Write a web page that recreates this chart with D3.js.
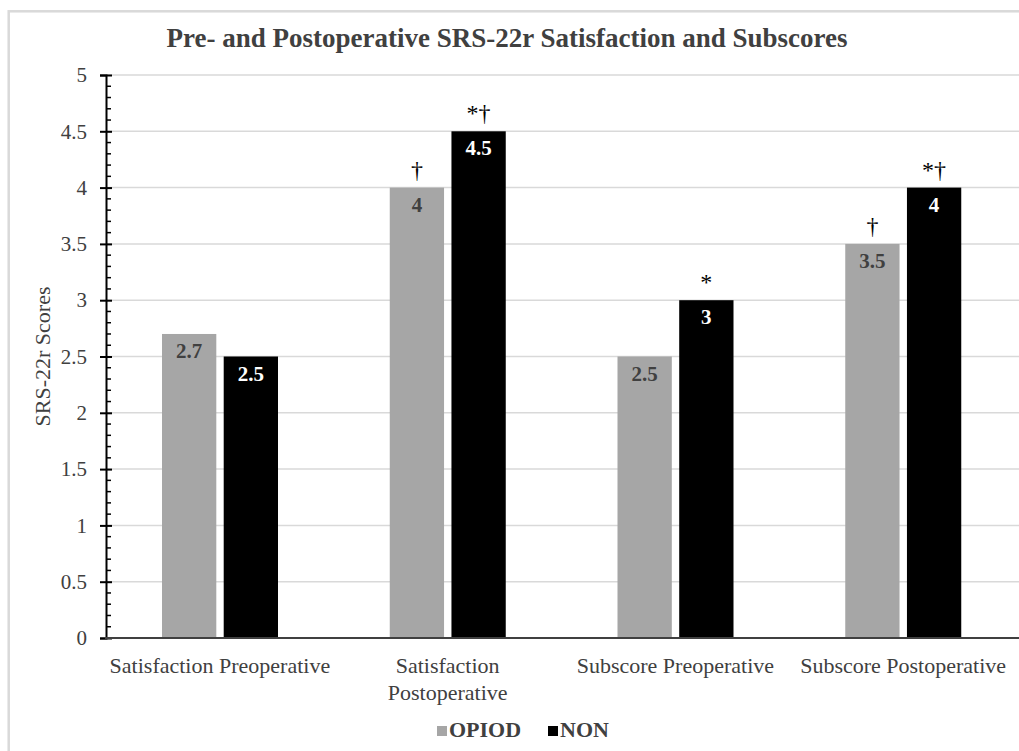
<!DOCTYPE html>
<html>
<head>
<meta charset="utf-8">
<script src="https://cdn.jsdelivr.net/npm/d3@7"></script>
<style>
  body { margin: 0; background: #fff; }
  svg text { font-family: "Liberation Serif", "DejaVu Serif", serif; }
</style>
</head>
<body>
<svg id="chart" width="1019" height="751"></svg>
<script>
// chart data
var categories = ['Satisfaction Preoperative', 'Satisfaction Postoperative', 'Subscore Preoperative', 'Subscore Postoperative'];
var categoryLines = [['Satisfaction Preoperative'], ['Satisfaction', 'Postoperative'], ['Subscore Preoperative'], ['Subscore Postoperative']];
var seriesNames = ['OPIOD', 'NON'];
var opioidValues = [2.7, 4, 2.5, 3.5];
var nonValues = [2.5, 4.5, 3, 4];
var opioidMarks = ['', '†', '', '†'];
var nonMarks = ['', '*†', '*', '*†'];
var yTicks = [0, 0.5, 1, 1.5, 2, 2.5, 3, 3.5, 4, 4.5, 5];

var svg = d3.select('#chart');
var padding = {t: 75, l: 106, r: 2, b: 113};
var width = 1019 - padding.l - padding.r;
var height = 751 - padding.t - padding.b;
var colors = {OPIOD: '#a6a6a6', NON: '#000000'};
var serif = '"Liberation Serif", "DejaVu Serif", serif';

// outer frame (cut off at the right and bottom like the source)
svg.append('rect')
    .attr('x', 8.7).attr('y', 11.3)
    .attr('width', 1040).attr('height', 800)
    .attr('fill', 'none')
    .attr('stroke', '#d9d9d9')
    .attr('stroke-width', 2.5);

svg.append('text')
    .attr('x', 507).attr('y', 47)
    .attr('text-anchor', 'middle')
    .attr('font-family', serif)
    .attr('font-size', 27)
    .attr('font-weight', 'bold')
    .attr('fill', '#404040')
    .text('Pre- and Postoperative SRS-22r Satisfaction and Subscores');

var chartG = svg.append('g')
    .attr('transform', 'translate(' + [padding.l, padding.t] + ')');

var xScale = d3.scaleBand().domain(categories).range([0, width]);
var xInner = d3.scaleBand().domain(seriesNames).range([56, 172]).paddingInner(0.12);
var yScale = d3.scaleLinear().domain([0, 5]).range([height, 0]);

// gridlines
chartG.selectAll('.grid')
    .data(yTicks.slice(1))
    .enter().append('line')
    .attr('class', 'grid')
    .attr('x1', 0).attr('x2', width + 10)
    .attr('y1', function(d) { return yScale(d); })
    .attr('y2', function(d) { return yScale(d); })
    .attr('stroke', '#d9d9d9')
    .attr('stroke-width', 1.5);

// bars
var rows = categories.map(function(c, i) {
    return [
        {cat: c, s: 'OPIOD', v: opioidValues[i], mark: opioidMarks[i]},
        {cat: c, s: 'NON', v: nonValues[i], mark: nonMarks[i]}
    ];
});
var groups = chartG.selectAll('.group')
    .data(rows)
    .enter().append('g')
    .attr('class', 'group')
    .attr('transform', function(d) { return 'translate(' + [xScale(d[0].cat), 0] + ')'; });

var bars = groups.selectAll('.bar')
    .data(function(d) { return d; })
    .enter().append('g')
    .attr('class', 'bar');

bars.append('rect')
    .attr('x', function(d) { return xInner(d.s); })
    .attr('y', function(d) { return yScale(d.v); })
    .attr('width', xInner.bandwidth())
    .attr('height', function(d) { return height - yScale(d.v); })
    .attr('fill', function(d) { return colors[d.s]; });

bars.append('text')
    .attr('x', function(d) { return xInner(d.s) + xInner.bandwidth() / 2; })
    .attr('y', function(d) { return yScale(d.v) + 24; })
    .attr('text-anchor', 'middle')
    .attr('font-family', serif)
    .attr('font-size', 21)
    .attr('font-weight', 'bold')
    .attr('fill', function(d) { return d.s == 'NON' ? '#ffffff' : '#404040'; })
    .text(function(d) { return d.v; });

bars.append('text')
    .attr('x', function(d) { return xInner(d.s) + xInner.bandwidth() / 2; })
    .attr('y', function(d) { return yScale(d.v) - 10; })
    .attr('text-anchor', 'middle')
    .attr('font-family', serif)
    .attr('font-size', 24)
    .attr('fill', '#000')
    .text(function(d) { return d.mark; });

// y axis: major ticks cross the line, minor ticks inside
var yAxis = d3.axisLeft(yScale).tickValues(yTicks).tickFormat(d3.format('')).tickSize(6).tickPadding(13);
var yAxisG = chartG.append('g').attr('class', 'y axis').call(yAxis);
yAxisG.attr('font-family', serif).attr('font-size', 21);
yAxisG.select('.domain').attr('stroke', '#000').attr('stroke-width', 2);
yAxisG.selectAll('.tick line')
    .attr('x1', 6).attr('x2', -6)
    .attr('stroke', '#000').attr('stroke-width', 2);
yAxisG.selectAll('.tick text')
    .attr('fill', '#404040');

var minorTicks = d3.range(0, 5.01, 0.1).filter(function(v) { return Math.abs(v * 2 - Math.round(v * 2)) > 0.01; });
chartG.selectAll('.minor')
    .data(minorTicks)
    .enter().append('line')
    .attr('class', 'minor')
    .attr('x1', 0).attr('x2', 5)
    .attr('y1', function(d) { return yScale(d); })
    .attr('y2', function(d) { return yScale(d); })
    .attr('stroke', '#000').attr('stroke-width', 1.5);

// x axis line
chartG.append('line')
    .attr('x1', -1).attr('x2', width + 10)
    .attr('y1', height).attr('y2', height)
    .attr('stroke', '#404040').attr('stroke-width', 2);

// category labels
var xLabels = chartG.selectAll('.xlabel')
    .data(categories)
    .enter().append('text')
    .attr('class', 'xlabel')
    .attr('text-anchor', 'middle')
    .attr('font-family', serif)
    .attr('font-size', 22)
    .attr('fill', '#404040')
    .attr('transform', function(d) { return 'translate(' + [xScale(d) + xScale.bandwidth() / 2, height + 35] + ')'; });
xLabels.selectAll('tspan')
    .data(function(d, i) { return categoryLines[i]; })
    .enter().append('tspan')
    .attr('x', 0)
    .attr('dy', function(d, i) { return i == 0 ? 0 : 27; })
    .text(function(d) { return d; });

// y axis title
svg.append('text')
    .attr('transform', 'translate(' + [50, padding.t + height / 2] + ') rotate(-90)')
    .attr('text-anchor', 'middle')
    .attr('font-family', serif)
    .attr('font-size', 22)
    .attr('fill', '#404040')
    .text('SRS-22r Scores');

// legend
var legendG = svg.append('g').attr('transform', 'translate(' + [437, 737] + ')');
var legendX = [0, 111];
var legendItems = legendG.selectAll('.legend')
    .data(seriesNames)
    .enter().append('g')
    .attr('class', 'legend')
    .attr('transform', function(d, i) { return 'translate(' + [legendX[i], 0] + ')'; });
legendItems.append('rect')
    .attr('x', 0).attr('y', -11)
    .attr('width', 10).attr('height', 10)
    .attr('fill', function(d) { return colors[d]; });
legendItems.append('text')
    .attr('x', 12).attr('y', 0)
    .attr('font-family', serif)
    .attr('font-size', 22)
    .attr('font-weight', 'bold')
    .attr('fill', '#404040')
    .text(function(d) { return d; });
</script>
</body>
</html>
